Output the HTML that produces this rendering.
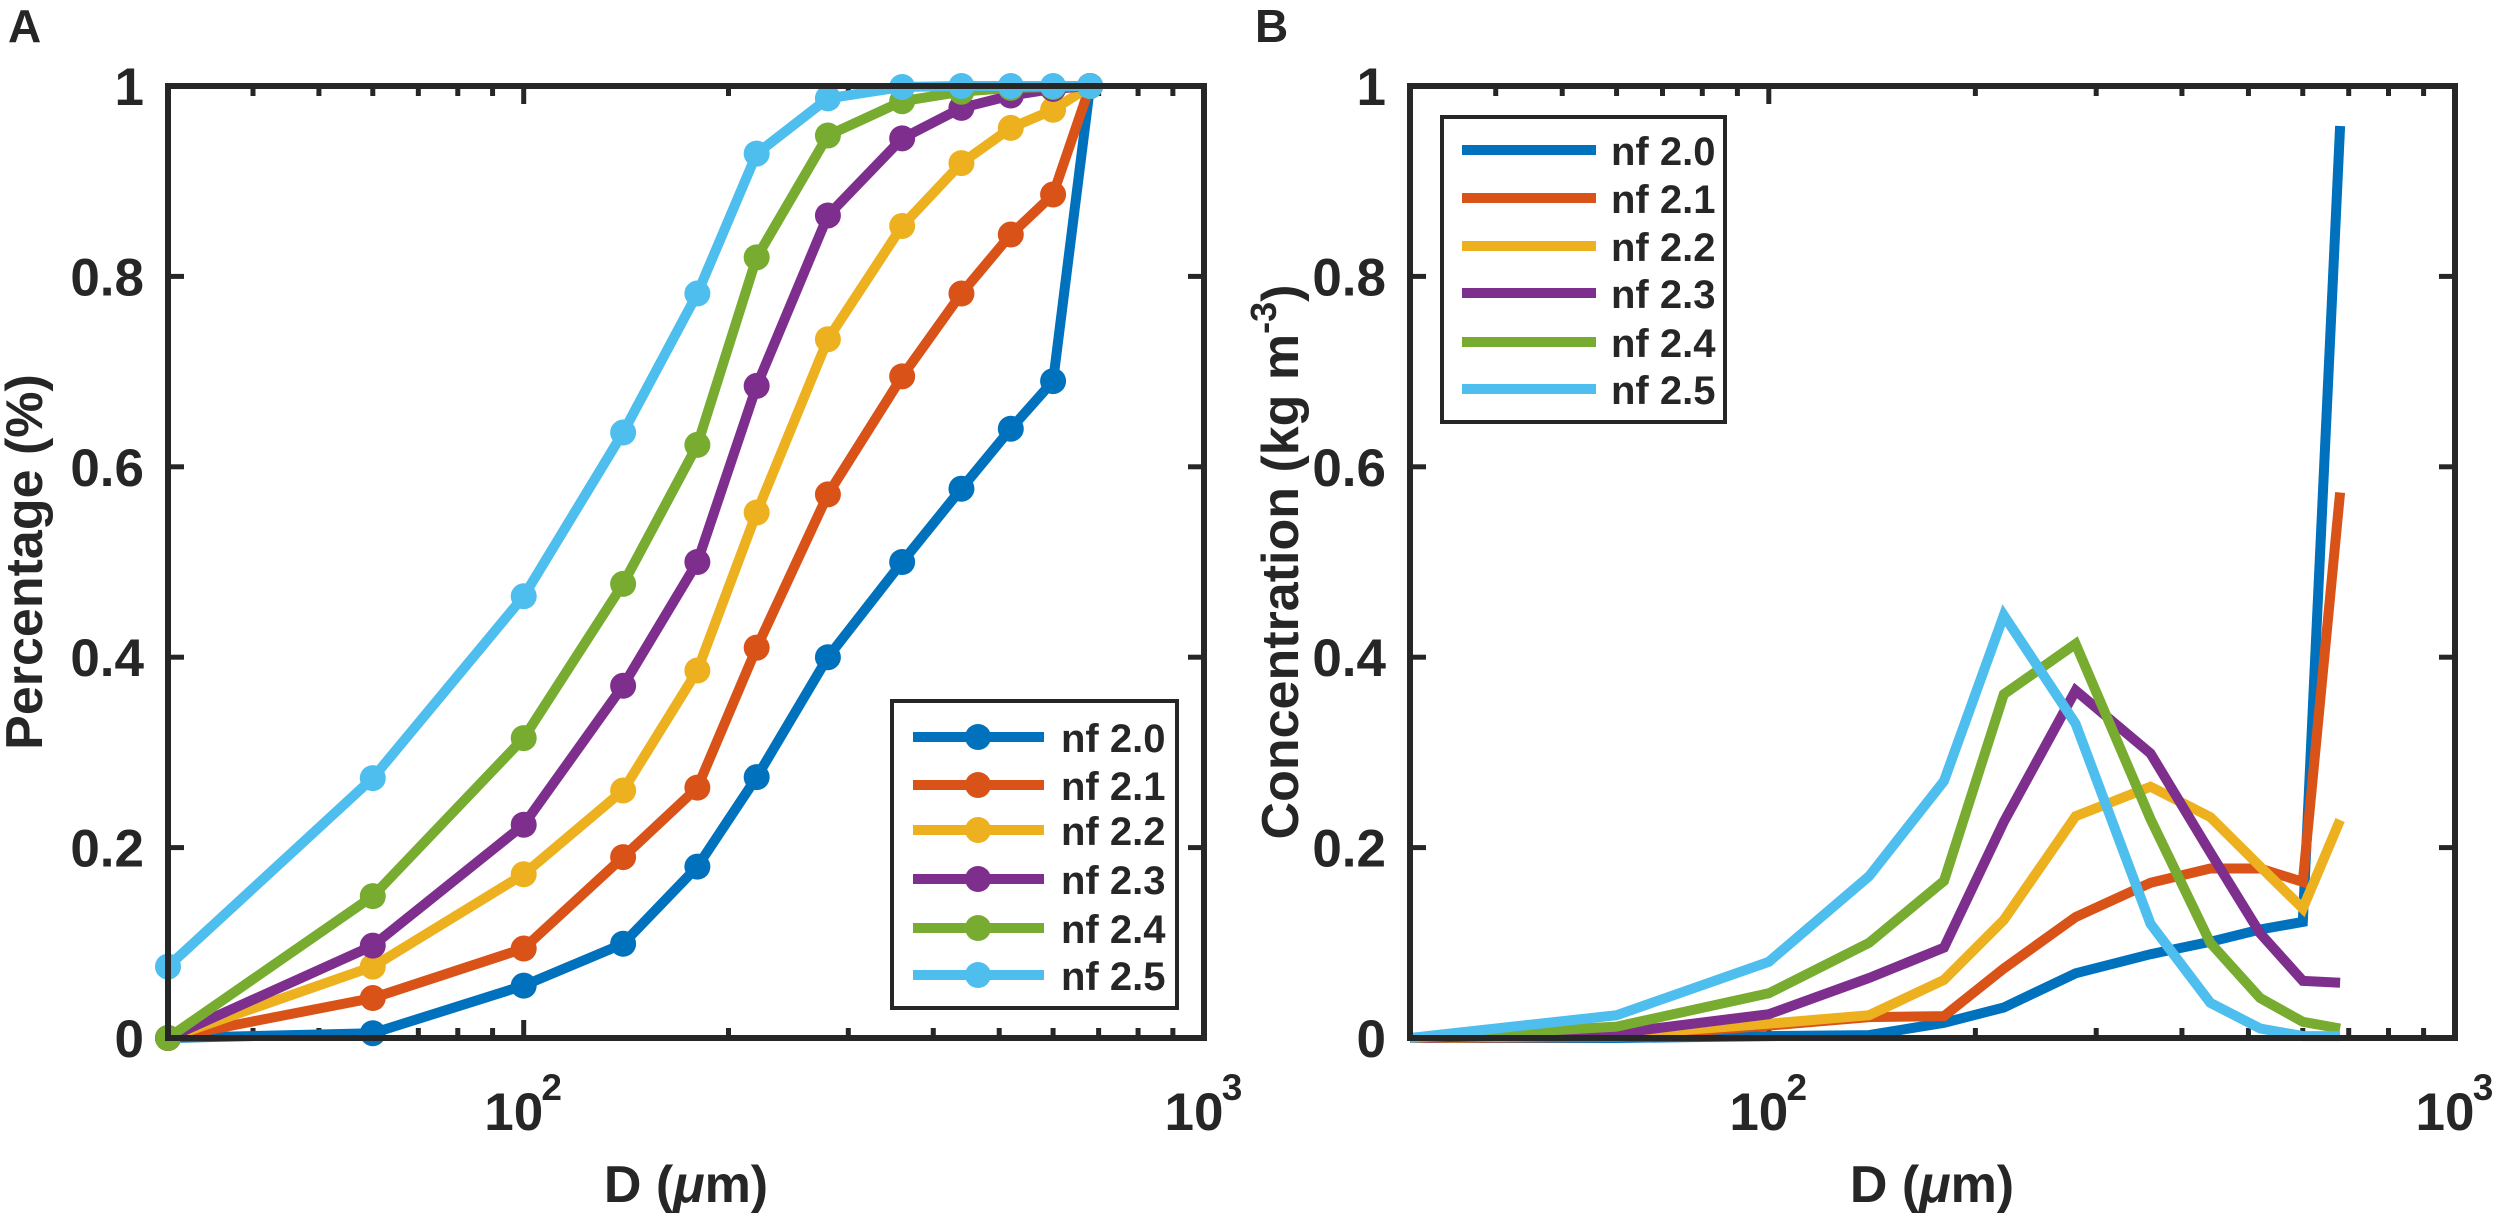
<!DOCTYPE html>
<html><head><meta charset="utf-8"><style>
html,body{margin:0;padding:0;background:#fff;}
svg{display:block;}
text{font-family:"Liberation Sans",Arial,sans-serif;font-weight:bold;fill:#262626;}
</style></head><body>
<svg id="s" width="2500" height="1219" viewBox="0 0 2500 1219" xmlns="http://www.w3.org/2000/svg">
<rect width="2500" height="1219" fill="#fff"/>
<g id="g"></g>
<text x="8" y="42" font-size="46">A</text>
<text x="1255" y="42" font-size="46">B</text>
<text x="686" y="1202" font-size="52" text-anchor="middle">D (<tspan font-style="italic">μ</tspan>m)</text>
<text x="1932" y="1202" font-size="52" text-anchor="middle">D (<tspan font-style="italic">μ</tspan>m)</text>
<text transform="translate(42,562) rotate(-90)" font-size="52" text-anchor="middle">Percentage (%)</text>
<text transform="translate(1298,562) rotate(-90)" font-size="52" text-anchor="middle">Concentration (kg m<tspan dy="-22" font-size="36">-3</tspan><tspan dy="22">)</tspan></text>
</svg>
<script>
var NS="http://www.w3.org/2000/svg",g=document.getElementById('g');
function el(t,a,txt){var e=document.createElementNS(NS,t);for(var k in a)e.setAttribute(k,a[k]);if(txt!=null)e.textContent=txt;g.appendChild(e);return e;}
var xs=[30,60,100,140,180,220,280,360,440,520,600,680];
var cols=['#0072BD','#D95319','#EDB120','#7E2F8E','#77AC30','#4DBEEE'];
var names=['nf 2.0','nf 2.1','nf 2.2','nf 2.3','nf 2.4','nf 2.5'];
var T=86,Bm=1038;
function panel(L,R,dataset,markers,ylab){
  var k=(R-L)/Math.log10(1000/30);
  function X(v){return L+k*Math.log10(v/30);}
  function Y(v){return Bm-(Bm-T)*v;}
  // ticks
  var minors=[40,50,60,70,80,90,200,300,400,500,600,700,800,900];
  minors.forEach(function(v){var x=X(v);el('line',{x1:x,y1:Bm,x2:x,y2:Bm-10,stroke:'#262626','stroke-width':5});el('line',{x1:x,y1:T,x2:x,y2:T+10,stroke:'#262626','stroke-width':5});});
  [100].forEach(function(v){var x=X(v);el('line',{x1:x,y1:Bm,x2:x,y2:Bm-18,stroke:'#262626','stroke-width':5});el('line',{x1:x,y1:T,x2:x,y2:T+18,stroke:'#262626','stroke-width':5});});
  var lbl=['0','0.2','0.4','0.6','0.8','1'];
  for(var i=0;i<=5;i++){var y=Y(i*0.2);
    el('line',{x1:L,y1:y,x2:L+16,y2:y,stroke:'#262626','stroke-width':5});
    el('line',{x1:R,y1:y,x2:R-16,y2:y,stroke:'#262626','stroke-width':5});
    el('text',{x:L-24,y:y+19,'font-size':53,'text-anchor':'end'},lbl[i]);}
  [[100,'2'],[1000,'3']].forEach(function(p){var x=X(p[0]);
    var t=el('text',{x:x-10,y:1130,'font-size':53,'text-anchor':'middle'},'10');
    el('text',{x:x+28,y:1100,'font-size':37,'text-anchor':'middle'},p[1]);});
  // data
  dataset.forEach(function(d,j){
    var pts=d.map(function(v,i){return X(xs[i]).toFixed(1)+','+Y(v).toFixed(1);}).join(' ');
    el('polyline',{points:pts,fill:'none',stroke:cols[j],'stroke-width':10,'stroke-linejoin':'miter'});
    if(markers)d.forEach(function(v,i){el('circle',{cx:X(xs[i]),cy:Y(v),r:13,fill:cols[j]});});
  });
  el('rect',{x:L,y:T,width:R-L,height:Bm-T,fill:'none',stroke:'#262626','stroke-width':6});
}
var A=[
[0,0.005,0.055,0.099,0.18,0.274,0.40,0.50,0.577,0.64,0.69,1],
[0,0.042,0.094,0.19,0.263,0.41,0.571,0.695,0.782,0.844,0.886,1],
[0,0.075,0.172,0.26,0.386,0.552,0.734,0.853,0.919,0.956,0.975,1],
[0,0.097,0.224,0.37,0.5,0.685,0.864,0.945,0.977,0.99,0.997,1],
[0,0.149,0.315,0.477,0.623,0.82,0.948,0.984,0.994,0.998,0.999,1],
[0.075,0.273,0.464,0.636,0.782,0.929,0.987,0.999,1,1,1,1]];
var B=[
[0,0,0.002,0.003,0.016,0.032,0.068,0.088,0.101,0.114,0.122,0.958],
[0,0.001,0.013,0.022,0.023,0.073,0.127,0.163,0.178,0.178,0.164,0.573],
[0,0.003,0.015,0.024,0.061,0.124,0.233,0.264,0.232,0.18,0.136,0.229],
[0,0.005,0.025,0.063,0.095,0.227,0.365,0.299,0.195,0.11,0.06,0.058],
[0,0.012,0.047,0.1,0.165,0.361,0.414,0.23,0.1,0.042,0.017,0.01],
[0,0.024,0.08,0.17,0.27,0.444,0.33,0.12,0.037,0.01,0.002,0.002]];
panel(168,1204,A,true);
panel(1410,2455,B,false);
// legends
el('rect',{x:892,y:701,width:285,height:307,fill:'#fff',stroke:'#262626','stroke-width':4});
var ay=[737,785,830,879,928,975];
for(var j=0;j<6;j++){el('line',{x1:913,y1:ay[j],x2:1044,y2:ay[j],stroke:cols[j],'stroke-width':10});
 el('circle',{cx:978,cy:ay[j],r:13,fill:cols[j]});
 el('text',{x:1061,y:ay[j]+15,'font-size':40},names[j]);}
el('rect',{x:1442,y:117,width:283,height:305,fill:'#fff',stroke:'#262626','stroke-width':4});
var by=[150,198,246,293,342,389];
for(var j=0;j<6;j++){el('line',{x1:1462,y1:by[j],x2:1596,y2:by[j],stroke:cols[j],'stroke-width':10});
 el('text',{x:1611,y:by[j]+15,'font-size':40},names[j]);}
</script>
</body></html>
